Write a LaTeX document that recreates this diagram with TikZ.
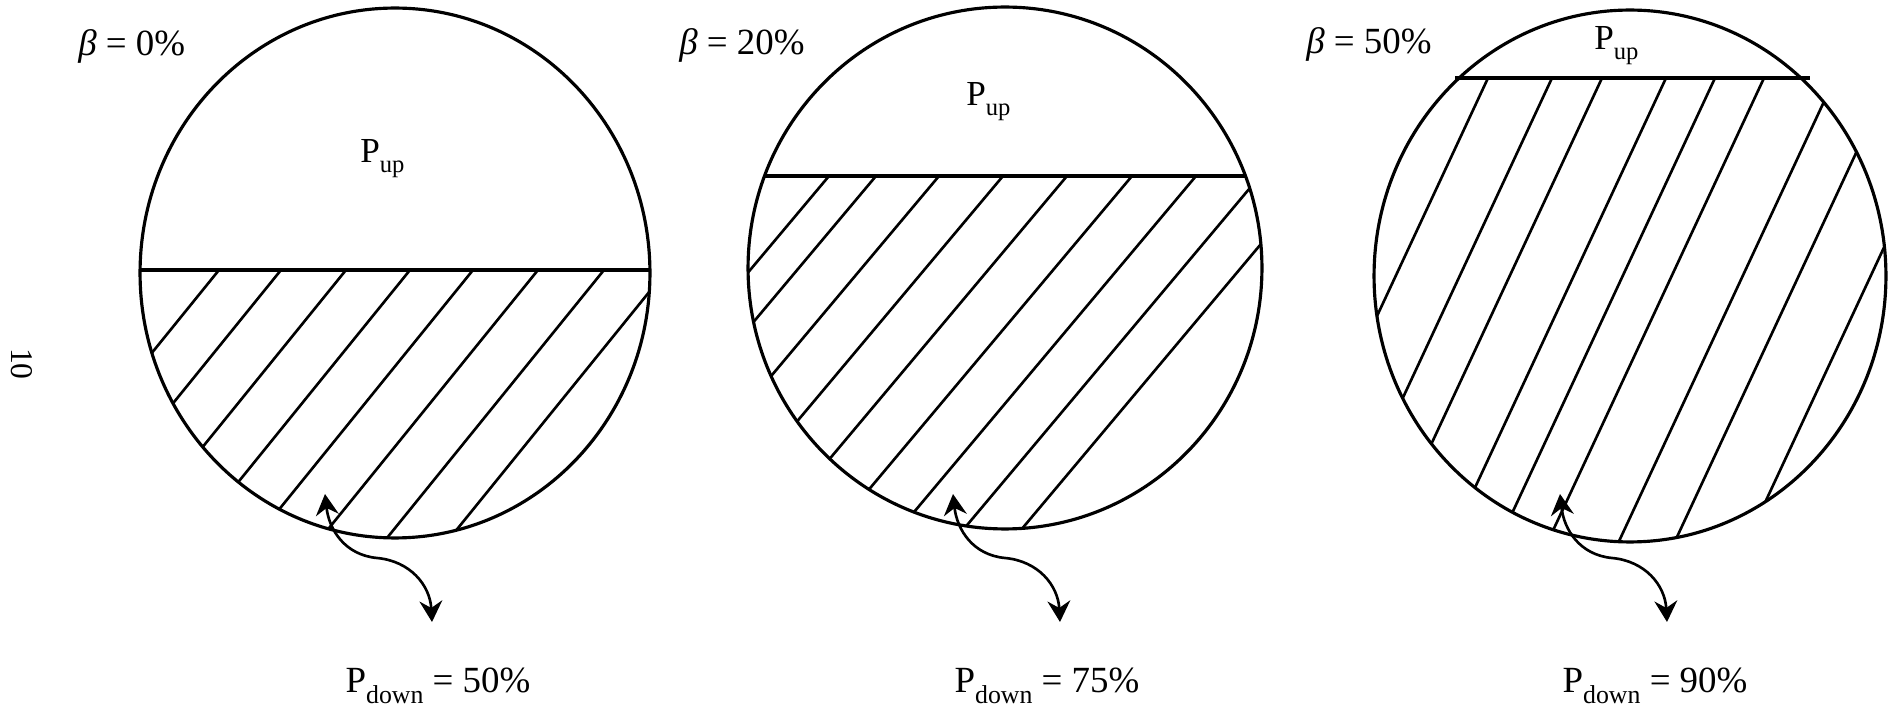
\documentclass[tikz,border=0pt]{standalone}
\usepackage{fontspec}
\setmainfont{Liberation Serif}
\usetikzlibrary{arrows.meta}
\newcommand{\Psub}[1]{P\raisebox{-0.28em}{\scalebox{0.7}{#1}}}
\begin{document}
\begin{tikzpicture}[x=0.02cm, y=-0.02cm,
	rim/.style={line width=1.8pt},
	hatch/.style={line width=1.5pt},
	lbl/.style={inner sep=0pt, font=\fontsize{21}{25}\selectfont},
	twoway/.style={line width=1.5pt, {Stealth[length=12pt,width=13pt,inset=4pt]}-{Stealth[length=12pt,width=13pt,inset=4pt]}}]
	\useasboundingbox (0,0) rectangle (1894,712);
	
	% beta = 0%
	\draw[rim] (395,273) ellipse [x radius=5.1cm, y radius=5.3cm];
	\draw[rim] (141,270) -- (650,270);
	\begin{scope}
	\clip (395,273) ellipse [x radius=5.1cm, y radius=5.3cm];
	\foreach \x in {219,281,346,410,473,538,604,667}
		\draw[hatch] (\x,270) -- ++(129:600);
	\end{scope}
	\node[lbl, anchor=base west] (b1) at (78,56) {\textit{β} = 0\%};
	\node[lbl, anchor=base west, font=\fontsize{20}{24}\selectfont] (up1) at (360,163) {\Psub{up}};
	\node[lbl, anchor=base] (dn1) at (438,693) {\Psub{down} = 50\%};
	\coordinate (s1) at (325,494);
	\coordinate (e1) at (432,622);
	\draw[twoway] (s1) .. controls (329,530) and (345,555) .. (377,558)
		.. controls (410,561) and (430,585) .. (e1);
	
	% beta = 20%
	\draw[rim] (1005,268) ellipse [x radius=5.14cm, y radius=5.22cm];
	\draw[rim] (765,176) -- (1245,176);
	\begin{scope}
	\clip (1005,268) ellipse [x radius=5.14cm, y radius=5.22cm];
	\foreach \x in {829,876,939,1003,1067,1132,1196,1260,1318}
		\draw[hatch] (\x,176) -- ++(130:600);
	\end{scope}
	\node[lbl, anchor=base west] (b2) at (679,55) {\textit{β} = 20\%};
	\node[lbl, anchor=base west, font=\fontsize{20}{24}\selectfont] (up2) at (966,106) {\Psub{up}};
	\node[lbl, anchor=base] (dn2) at (1047,693) {\Psub{down} = 75\%};
	\coordinate (s2) at (953,494);
	\coordinate (e2) at (1060,622);
	\draw[twoway] (s2) .. controls (957,530) and (973,555) .. (1005,558)
		.. controls (1038,561) and (1058,585) .. (e2);
	
	% beta = 50%
	\draw[rim] (1630,276) ellipse [x radius=5.12cm, y radius=5.32cm];
	\draw[rim] (1455,78) -- (1810,78);
	\begin{scope}
	\clip (1630,276) ellipse [x radius=5.12cm, y radius=5.32cm];
	\foreach \x in {1488,1552,1602,1666,1715,1764,1835,1891,1963}
		\draw[hatch] (\x,78) -- ++(115:600);
	\end{scope}
	\node[lbl, anchor=base west] (b3) at (1306,54) {\textit{β} = 50\%};
	\node[lbl, anchor=base west, font=\fontsize{20}{24}\selectfont] (up3) at (1594,50) {\Psub{up}};
	\node[lbl, anchor=base] (dn3) at (1655,693) {\Psub{down} = 90\%};
	\coordinate (s3) at (1560,494);
	\coordinate (e3) at (1667,622);
	\draw[twoway] (s3) .. controls (1564,530) and (1580,555) .. (1612,558)
		.. controls (1645,561) and (1665,585) .. (e3);
	
	\node[lbl, rotate=-90, font=\fontsize{18}{21}\selectfont] (pg) at (22,364) {10};
\end{tikzpicture}
\end{document}
